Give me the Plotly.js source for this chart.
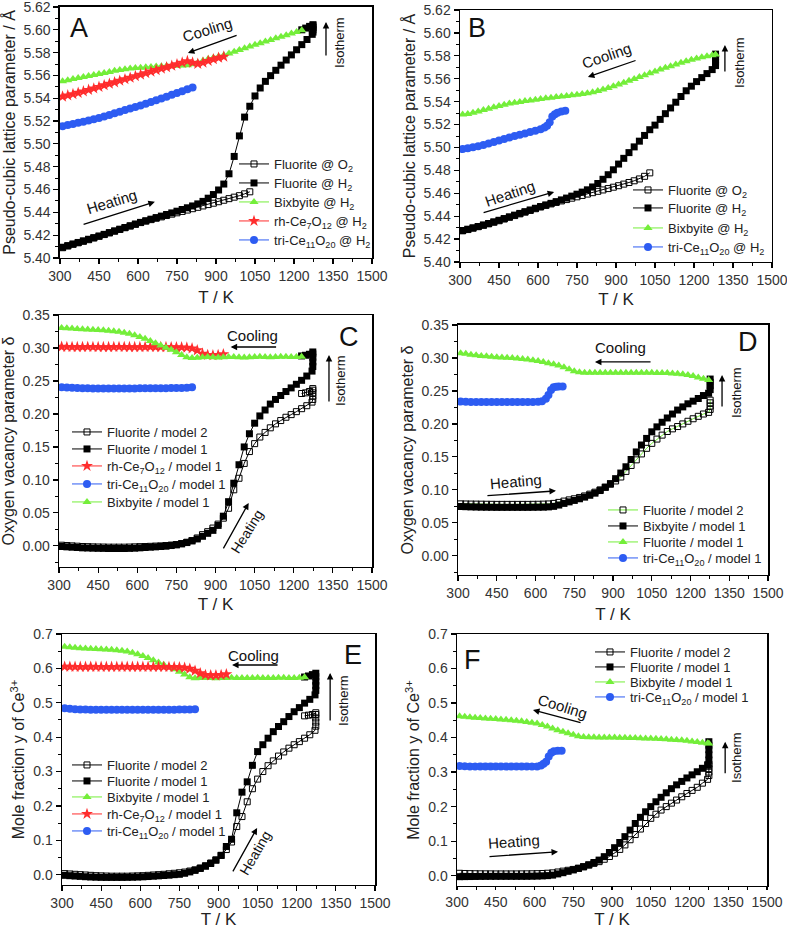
<!DOCTYPE html>
<html><head><meta charset="utf-8">
<script src="https://cdn.plot.ly/plotly-3.0.1.min.js"></script>
<style>html,body{margin:0;padding:0;background:#fff}#chart{width:787px;height:929px}</style>
</head><body><div id="chart"></div>
<script>
// ---------- shared temperature grid (K) ----------
const T20 = [310,330,350,370,390,410,430,450,470,490,510,530,550,570,590,610,630,650,670,690,710,730,750,770,790,810,830,850,870,890,910,930,950,970,990,1010,1030,1050,1070,1090,1110,1130,1150,1170,1190,1210,1230,1250,1270];

// ---------- Panel A : lattice parameter, sample 1 ----------
const A_O2 = [5.4090,5.4105,5.4120,5.4133,5.4146,5.4160,5.4175,5.4190,5.4205,5.4220,5.4235,5.4250,5.4265,5.4280,5.4295,5.4310,5.4323,5.4336,5.4348,5.4360,5.4372,5.4384,5.4396,5.4408,5.4420,5.4432,5.4444,5.4456,5.4468,5.4480,5.4493,5.4506,5.4520,5.4533,5.4546,5.4562,5.4580];
const A_H2 = [5.4094,5.4108,5.4122,5.4136,5.4150,5.4164,5.4178,5.4192,5.4207,5.4222,5.4237,5.4252,5.4267,5.4282,5.4297,5.4312,5.4326,5.4340,5.4354,5.4367,5.4381,5.4395,5.4410,5.4425,5.4440,5.4456,5.4474,5.4496,5.4524,5.4556,5.4596,5.4648,5.4738,5.4890,5.5070,5.5235,5.5330,5.5420,5.5490,5.5548,5.5598,5.5645,5.5690,5.5735,5.5780,5.5825,5.5870,5.5915,5.5960];
const A_H2_tailT = [1273,1273,1273,1273,1273,1260,1245,1230];
const A_H2_tail  = [5.5980,5.6000,5.6020,5.6035,5.6045,5.6030,5.6015,5.6000];
const A_Bix = [5.5548,5.5558,5.5568,5.5577,5.5586,5.5595,5.5604,5.5613,5.5622,5.5631,5.5640,5.5648,5.5655,5.5661,5.5665,5.5668,5.5672,5.5675,5.5678,5.5680,5.5682,5.5683,5.5684,5.5686,5.5690,5.5698,5.5712,5.5728,5.5743,5.5755,5.5766,5.5778,5.5793,5.5808,5.5823,5.5838,5.5853,5.5868,5.5883,5.5897,5.5911,5.5925,5.5939,5.5953,5.5967,5.5981,5.5995];
const A_Rh = [5.5415,5.5425,5.5436,5.5448,5.5460,5.5473,5.5486,5.5500,5.5514,5.5527,5.5540,5.5554,5.5567,5.5580,5.5594,5.5607,5.5620,5.5634,5.5647,5.5660,5.5672,5.5685,5.5698,5.5712,5.5725,5.5712,5.5702,5.5712,5.5728,5.5742,5.5755,5.5765];
const A_Tri = [5.5155,5.5165,5.5175,5.5185,5.5195,5.5205,5.5216,5.5227,5.5240,5.5254,5.5268,5.5282,5.5296,5.5310,5.5323,5.5337,5.5352,5.5367,5.5382,5.5398,5.5414,5.5430,5.5446,5.5462,5.5479,5.5495];

// ---------- Panel B : lattice parameter, sample 2 ----------
const B_O2 = [5.4272,5.4283,5.4295,5.4308,5.4320,5.4333,5.4347,5.4360,5.4375,5.4390,5.4405,5.4420,5.4435,5.4450,5.4465,5.4480,5.4494,5.4507,5.4520,5.4533,5.4545,5.4557,5.4569,5.4581,5.4593,5.4605,5.4617,5.4629,5.4641,5.4653,5.4666,5.4680,5.4694,5.4709,5.4725,5.4748,5.4778];
const B_H2 = [5.4275,5.4286,5.4298,5.4310,5.4323,5.4336,5.4350,5.4364,5.4379,5.4394,5.4409,5.4424,5.4439,5.4454,5.4469,5.4484,5.4498,5.4512,5.4527,5.4542,5.4558,5.4575,5.4592,5.4610,5.4630,5.4655,5.4685,5.4722,5.4762,5.4805,5.4855,5.4905,5.4955,5.5005,5.5055,5.5105,5.5155,5.5195,5.5245,5.5295,5.5345,5.5395,5.5445,5.5495,5.5535,5.5575,5.5610,5.5645,5.5680];
const B_H2_tailT = [1283,1283,1283,1283,1283];
const B_H2_tail  = [5.5715,5.5745,5.5770,5.5795,5.5815];
const B_Bix = [5.5287,5.5292,5.5302,5.5314,5.5327,5.5339,5.5351,5.5362,5.5373,5.5383,5.5391,5.5398,5.5405,5.5411,5.5417,5.5423,5.5429,5.5434,5.5440,5.5445,5.5450,5.5455,5.5460,5.5466,5.5474,5.5483,5.5494,5.5506,5.5520,5.5535,5.5550,5.5566,5.5582,5.5598,5.5615,5.5631,5.5648,5.5664,5.5680,5.5695,5.5710,5.5725,5.5740,5.5753,5.5766,5.5777,5.5788,5.5797,5.5805];
const B_Bix_tailT = [1283];
const B_Bix_tail  = [5.5812];
const B_Tri_T = [310,330,350,370,390,410,430,450,470,490,510,530,550,570,590,610,625,635,645,655,665,675,690,705];
const B_Tri   = [5.4986,5.4993,5.5002,5.5011,5.5022,5.5034,5.5047,5.5060,5.5073,5.5087,5.5099,5.5110,5.5122,5.5134,5.5146,5.5160,5.5175,5.5190,5.5220,5.5270,5.5290,5.5303,5.5313,5.5320];

// ---------- Panel C : oxygen vacancy parameter, sample 1 ----------
const C_M2 = [0.0010,0.0005,0.0000,-0.0005,-0.0010,-0.0012,-0.0015,-0.0017,-0.0018,-0.0020,-0.0020,-0.0020,-0.0020,-0.0018,-0.0015,-0.0012,-0.0010,-0.0007,-0.0003,0.0000,0.0005,0.0012,0.0020,0.0035,0.0055,0.0080,0.0120,0.0170,0.0215,0.0270,0.0330,0.0420,0.0570,0.0850,0.1025,0.1250,0.1430,0.1550,0.1650,0.1720,0.1790,0.1850,0.1900,0.1950,0.1990,0.2035,0.2080,0.2125,0.2180];
const C_M2_tailT = [1273,1273,1273,1273,1273,1260,1245,1230];
const C_M2_tail  = [0.2220,0.2270,0.2320,0.2360,0.2385,0.2340,0.2320,0.2310];
const C_M1 = [-0.0010,-0.0015,-0.0020,-0.0025,-0.0030,-0.0032,-0.0035,-0.0037,-0.0038,-0.0040,-0.0040,-0.0040,-0.0040,-0.0038,-0.0035,-0.0030,-0.0025,-0.0020,-0.0015,-0.0010,-0.0005,0.0005,0.0015,0.0030,0.0050,0.0075,0.0105,0.0145,0.0190,0.0235,0.0310,0.0450,0.0670,0.0950,0.1230,0.1500,0.1700,0.1860,0.1970,0.2060,0.2150,0.2220,0.2280,0.2340,0.2395,0.2450,0.2510,0.2575,0.2650];
const C_M1_tailT = [1273,1273,1273,1273,1273,1260,1245,1230];
const C_M1_tail  = [0.2720,0.2790,0.2860,0.2910,0.2940,0.2905,0.2890,0.2880];
const C_Rh = [0.3018,0.3016,0.3015,0.3014,0.3015,0.3016,0.3015,0.3014,0.3013,0.3014,0.3015,0.3016,0.3015,0.3014,0.3013,0.3014,0.3015,0.3016,0.3015,0.3014,0.3013,0.3012,0.3012,0.3010,0.3005,0.2995,0.2965,0.2915,0.2895,0.2890,0.2895,0.2905];
const C_Tri = [0.2405,0.2400,0.2396,0.2393,0.2390,0.2388,0.2387,0.2386,0.2385,0.2385,0.2385,0.2385,0.2386,0.2386,0.2387,0.2388,0.2388,0.2389,0.2390,0.2390,0.2391,0.2392,0.2393,0.2394,0.2397,0.2405];
const C_Bix = [0.3305,0.3300,0.3295,0.3290,0.3286,0.3282,0.3278,0.3273,0.3268,0.3262,0.3254,0.3245,0.3232,0.3215,0.3193,0.3168,0.3140,0.3108,0.3073,0.3038,0.3005,0.2972,0.2935,0.2895,0.2860,0.2848,0.2852,0.2858,0.2862,0.2858,0.2855,0.2858,0.2862,0.2865,0.2860,0.2857,0.2860,0.2865,0.2868,0.2864,0.2860,0.2862,0.2866,0.2868,0.2865,0.2863,0.2866];

// ---------- Panel D : oxygen vacancy parameter, sample 2 ----------
const D_M2 = [0.0788,0.0786,0.0785,0.0784,0.0783,0.0782,0.0781,0.0780,0.0780,0.0780,0.0780,0.0780,0.0780,0.0780,0.0781,0.0782,0.0784,0.0787,0.0795,0.0810,0.0830,0.0848,0.0865,0.0885,0.0908,0.0935,0.0965,0.1000,0.1040,0.1085,0.1135,0.1195,0.1280,0.1370,0.1455,0.1545,0.1630,0.1705,0.1770,0.1830,0.1885,0.1925,0.1960,0.2000,0.2040,0.2078,0.2115,0.2150,0.2175];
const D_M2_tailT = [1276,1276,1276,1276];
const D_M2_tail  = [0.2220,0.2270,0.2320,0.2360];
const D_M1 = [0.0748,0.0745,0.0742,0.0740,0.0738,0.0737,0.0736,0.0735,0.0735,0.0735,0.0735,0.0735,0.0735,0.0735,0.0736,0.0737,0.0738,0.0742,0.0750,0.0770,0.0795,0.0818,0.0840,0.0865,0.0890,0.0918,0.0950,0.0990,0.1040,0.1095,0.1170,0.1255,0.1350,0.1460,0.1575,0.1680,0.1780,0.1880,0.1955,0.2025,0.2090,0.2150,0.2210,0.2258,0.2305,0.2345,0.2385,0.2430,0.2465];
const D_M1_tailT = [1276,1276,1276,1276];
const D_M1_tail  = [0.2520,0.2580,0.2630,0.2680];
const D_Grn = [0.3070,0.3062,0.3050,0.3040,0.3031,0.3024,0.3018,0.3012,0.3008,0.3003,0.2998,0.2992,0.2985,0.2976,0.2965,0.2952,0.2937,0.2920,0.2904,0.2884,0.2860,0.2830,0.2800,0.2783,0.2777,0.2775,0.2776,0.2775,0.2774,0.2775,0.2776,0.2775,0.2774,0.2775,0.2776,0.2775,0.2774,0.2774,0.2773,0.2772,0.2770,0.2766,0.2760,0.2752,0.2740,0.2725,0.2705,0.2685,0.2665];
const D_Tri_T = [310,330,350,370,390,410,430,450,470,490,510,530,550,570,590,610,625,640,650,660,670,680,690,705];
const D_Tri   = [0.2338,0.2335,0.2334,0.2333,0.2333,0.2333,0.2333,0.2333,0.2333,0.2333,0.2333,0.2333,0.2333,0.2333,0.2334,0.2336,0.2345,0.2380,0.2440,0.2515,0.2555,0.2565,0.2567,0.2568];

// ---------- Panel E : Ce3+ fraction, sample 1 ----------
const E_M2 = [0.0030,0.0020,0.0010,0.0000,-0.0010,-0.0020,-0.0030,-0.0035,-0.0040,-0.0045,-0.0045,-0.0045,-0.0045,-0.0040,-0.0035,-0.0030,-0.0020,-0.0010,0.0000,0.0010,0.0025,0.0040,0.0055,0.0075,0.0105,0.0140,0.0195,0.0260,0.0340,0.0430,0.0560,0.0730,0.0950,0.1400,0.1690,0.2120,0.2500,0.2780,0.3000,0.3170,0.3310,0.3450,0.3570,0.3680,0.3780,0.3870,0.3970,0.4070,0.4200];
const E_M2_tailT = [1273,1273,1273,1273,1273,1260,1245,1230];
const E_M2_tail  = [0.4320,0.4440,0.4560,0.4660,0.4710,0.4660,0.4640,0.4620];
const E_M1 = [-0.0020,-0.0030,-0.0040,-0.0050,-0.0060,-0.0068,-0.0074,-0.0078,-0.0080,-0.0080,-0.0080,-0.0080,-0.0078,-0.0075,-0.0070,-0.0063,-0.0055,-0.0045,-0.0035,-0.0025,-0.0015,0.0000,0.0010,0.0040,0.0080,0.0125,0.0180,0.0245,0.0325,0.0420,0.0560,0.0820,0.1030,0.1800,0.2400,0.2700,0.3180,0.3580,0.3780,0.3970,0.4160,0.4310,0.4450,0.4600,0.4740,0.4860,0.4990,0.5100,0.5230];
const E_M1_tailT = [1273,1273,1273,1273,1273,1260,1245,1230];
const E_M1_tail  = [0.5360,0.5500,0.5630,0.5760,0.5860,0.5820,0.5780,0.5750];
const E_Bix = [0.6630,0.6615,0.6600,0.6588,0.6578,0.6570,0.6562,0.6555,0.6548,0.6540,0.6530,0.6515,0.6490,0.6455,0.6415,0.6360,0.6300,0.6240,0.6175,0.6105,0.6040,0.5975,0.5905,0.5820,0.5745,0.5715,0.5718,0.5722,0.5720,0.5717,0.5720,0.5723,0.5725,0.5722,0.5719,0.5721,0.5724,0.5726,0.5723,0.5720,0.5722,0.5725,0.5727,0.5724,0.5722,0.5726,0.5740];
const E_Rh = [0.6050,0.6048,0.6046,0.6045,0.6046,0.6047,0.6046,0.6045,0.6044,0.6045,0.6046,0.6047,0.6046,0.6045,0.6044,0.6045,0.6046,0.6045,0.6044,0.6043,0.6042,0.6040,0.6035,0.6020,0.5990,0.5930,0.5860,0.5810,0.5800,0.5800,0.5810,0.5830];
const E_Tri = [0.4840,0.4825,0.4815,0.4808,0.4803,0.4800,0.4798,0.4796,0.4795,0.4795,0.4795,0.4795,0.4795,0.4796,0.4796,0.4797,0.4797,0.4798,0.4798,0.4799,0.4800,0.4801,0.4802,0.4804,0.4808,0.4815];

// ---------- Panel F : Ce3+ fraction, sample 2 ----------
const F_M2 = [0.0068,0.0062,0.0058,0.0055,0.0053,0.0052,0.0051,0.0050,0.0050,0.0050,0.0050,0.0050,0.0051,0.0052,0.0054,0.0057,0.0062,0.0070,0.0080,0.0105,0.0130,0.0155,0.0180,0.0215,0.0255,0.0305,0.0355,0.0405,0.0475,0.0555,0.0650,0.0760,0.0890,0.1040,0.1190,0.1350,0.1510,0.1660,0.1780,0.1900,0.2000,0.2100,0.2190,0.2285,0.2380,0.2470,0.2560,0.2680,0.2790];
const F_M2_tailT = [1275,1275,1275,1275,1275];
const F_M2_tail  = [0.2900,0.3000,0.3100,0.3180,0.3230];
const F_M1 = [-0.0030,-0.0028,-0.0026,-0.0024,-0.0022,-0.0021,-0.0020,-0.0020,-0.0020,-0.0020,-0.0020,-0.0020,-0.0020,-0.0019,-0.0017,-0.0014,-0.0008,0.0000,0.0015,0.0050,0.0085,0.0125,0.0165,0.0210,0.0260,0.0315,0.0380,0.0450,0.0550,0.0670,0.0810,0.0960,0.1130,0.1320,0.1510,0.1690,0.1850,0.2000,0.2140,0.2270,0.2400,0.2520,0.2630,0.2730,0.2830,0.2920,0.3010,0.3110,0.3210];
const F_M1_tailT = [1275,1275,1275,1275,1275];
const F_M1_tail  = [0.3350,0.3500,0.3650,0.3780,0.3880];
const F_Bix = [0.4615,0.4600,0.4588,0.4575,0.4565,0.4555,0.4545,0.4535,0.4525,0.4515,0.4505,0.4490,0.4475,0.4455,0.4430,0.4405,0.4365,0.4320,0.4265,0.4215,0.4170,0.4125,0.4080,0.4035,0.4015,0.4010,0.4008,0.4005,0.4003,0.4000,0.4000,0.3996,0.3993,0.3990,0.3985,0.3980,0.3975,0.3970,0.3965,0.3958,0.3950,0.3940,0.3930,0.3920,0.3905,0.3890,0.3870,0.3850,0.3835];
const F_Bix_tailT = [1275];
const F_Bix_tail  = [0.3830];
const F_Tri_T = [310,330,350,370,390,410,430,450,470,490,510,530,550,570,590,610,625,635,645,655,665,675,690,705];
const F_Tri   = [0.3176,0.3170,0.3165,0.3162,0.3160,0.3160,0.3160,0.3160,0.3160,0.3160,0.3160,0.3160,0.3160,0.3161,0.3162,0.3165,0.3190,0.3240,0.3300,0.3450,0.3560,0.3605,0.3615,0.3620];

// ---------- styling ----------
const GREEN = '#74ee3a', RED = '#ff2d2d', BLUE = '#2d5cf2', BLACK = '#000000';
const NARROW = '"Liberation Sans Narrow", "Liberation Sans", Arial, sans-serif';
const SANS = '"Liberation Sans", Arial, sans-serif';
const W = 787, H = 929;
const tx = n => T20.slice(0, n);
const sfx = p => (p === 1 ? '' : String(p));

// legend entry placement per panel: [symbol-line start px, entry centre px list]
const LEG = {
  1:[239,[164,183,202,221,240]],
  2:[633,[190,208,228,247]],
  3:[72,[432,449,466,484,502]],
  4:[608,[510,526,542,558]],
  5:[72,[765,781,797,814,831]],
  6:[595,[652,667,682,697]]
};
const legCount = {1:0,2:0,3:0,4:0,5:0,6:0};
const legends = {};
let legN = 0;

const traces = [];
function add(p, name, x, y, kind, lineColor) {
  const st = {
    open:  {symbol:'square-open', color:BLACK, size:6},
    fill:  {symbol:'square', color:BLACK, size:7},
    tri:   {symbol:'triangle-up', color:GREEN, size:8},
    star:  {symbol:'star', color:RED, size:9},
    dot:   {symbol:'circle', color:BLUE, size:8}
  }[kind];
  legN += 1;
  const lid = 'legend' + (legN === 1 ? '' : legN);
  const k = legCount[p]++;
  legends[lid] = {
    x:(LEG[p][0]-5)/W, y:1 - LEG[p][1][k]/H, xanchor:'left', yanchor:'middle',
    bgcolor:'rgba(0,0,0,0)', borderwidth:0, itemwidth:30,
    font:{family:NARROW, size:13, color:'#222'}
  };
  traces.push({
    type:'scatter', mode:'lines+markers', name, x, y,
    xaxis:'x'+sfx(p), yaxis:'y'+sfx(p), legend:lid,
    line:{color: lineColor || st.color, width:1},
    marker:{symbol:st.symbol, color:st.color, size:st.size, line:{width: kind==='open'?1:0, color:st.color}}
  });
}
// A
add(1, 'Fluorite @ O<sub>2</sub>', tx(A_O2.length), A_O2, 'open');
add(1, 'Fluorite @ H<sub>2</sub>', tx(A_H2.length).concat(A_H2_tailT), A_H2.concat(A_H2_tail), 'fill');
add(1, 'Bixbyite @ H<sub>2</sub>', tx(A_Bix.length), A_Bix, 'tri');
add(1, 'rh-Ce<sub>7</sub>O<sub>12</sub> @ H<sub>2</sub>', tx(A_Rh.length), A_Rh, 'star');
add(1, 'tri-Ce<sub>11</sub>O<sub>20</sub> @ H<sub>2</sub>', tx(A_Tri.length), A_Tri, 'dot');
// B
add(2, 'Fluorite @ O<sub>2</sub>', tx(B_O2.length), B_O2, 'open');
add(2, 'Fluorite @ H<sub>2</sub>', tx(B_H2.length).concat(B_H2_tailT), B_H2.concat(B_H2_tail), 'fill');
add(2, 'Bixbyite @ H<sub>2</sub>', tx(B_Bix.length).concat(B_Bix_tailT), B_Bix.concat(B_Bix_tail), 'tri');
add(2, 'tri-Ce<sub>11</sub>O<sub>20</sub> @ H<sub>2</sub>', B_Tri_T, B_Tri, 'dot');
// C
add(3, 'Fluorite / model 2', tx(C_M2.length).concat(C_M2_tailT), C_M2.concat(C_M2_tail), 'open');
add(3, 'Fluorite / model 1', tx(C_M1.length).concat(C_M1_tailT), C_M1.concat(C_M1_tail), 'fill');
add(3, 'rh-Ce<sub>7</sub>O<sub>12</sub> / model 1', tx(C_Rh.length), C_Rh, 'star');
add(3, 'tri-Ce<sub>11</sub>O<sub>20</sub> / model 1', tx(C_Tri.length), C_Tri, 'dot');
add(3, 'Bixbyite / model 1', tx(C_Bix.length), C_Bix, 'tri');
// D
add(4, 'Fluorite / model 2', tx(D_M2.length).concat(D_M2_tailT), D_M2.concat(D_M2_tail), 'open', GREEN);
add(4, 'Bixbyite / model 1', tx(D_M1.length).concat(D_M1_tailT), D_M1.concat(D_M1_tail), 'fill');
add(4, 'Fluorite / model 1', tx(D_Grn.length), D_Grn, 'tri');
add(4, 'tri-Ce<sub>11</sub>O<sub>20</sub> / model 1', D_Tri_T, D_Tri, 'dot');
// E
add(5, 'Fluorite / model 2', tx(E_M2.length).concat(E_M2_tailT), E_M2.concat(E_M2_tail), 'open');
add(5, 'Fluorite / model 1', tx(E_M1.length).concat(E_M1_tailT), E_M1.concat(E_M1_tail), 'fill');
add(5, 'Bixbyite / model 1', tx(E_Bix.length), E_Bix, 'tri');
add(5, 'rh-Ce<sub>7</sub>O<sub>12</sub> / model 1', tx(E_Rh.length), E_Rh, 'star');
add(5, 'tri-Ce<sub>11</sub>O<sub>20</sub> / model 1', tx(E_Tri.length), E_Tri, 'dot');
// F
add(6, 'Fluorite / model 2', tx(F_M2.length).concat(F_M2_tailT), F_M2.concat(F_M2_tail), 'open');
add(6, 'Fluorite / model 1', tx(F_M1.length).concat(F_M1_tailT), F_M1.concat(F_M1_tail), 'fill');
add(6, 'Bixbyite / model 1', tx(F_Bix.length).concat(F_Bix_tailT), F_Bix.concat(F_Bix_tail), 'tri');
add(6, 'tri-Ce<sub>11</sub>O<sub>20</sub> / model 1', F_Tri_T, F_Tri, 'dot');

// ---------- axes ----------
const panels = [
  {xd:[0.0762,0.4727], yd:[0.7223,0.9925], yr:[5.39999,5.62001], dt:0.02, mdt:0.01, fmt:'.2f', yt:'Pseudo-cubic lattice parameter / Å', tso:8},
  {xd:[0.5845,0.9809], yd:[0.7180,0.9892], yr:[5.39999,5.62001], dt:0.02, mdt:0.01, fmt:'.2f', yt:'Pseudo-cubic lattice parameter / Å', tso:6},
  {xd:[0.0750,0.4727], yd:[0.3897,0.6609], yr:[-0.032,0.35001], dt:0.05, mdt:0.025, fmt:'.2f', yt:'Oxygen vacancy parameter δ', tso:6},
  {xd:[0.5820,0.9759], yd:[0.3811,0.6502], yr:[-0.029,0.35001], dt:0.05, mdt:0.025, fmt:'.2f', yt:'Oxygen vacancy parameter δ', tso:8},
  {xd:[0.0788,0.4765], yd:[0.0474,0.3175], yr:[-0.03,0.70001], dt:0.1, mdt:0.05, fmt:'.1f', yt:'Mole fraction y of Ce<sup>3+</sup>', tso:8},
  {xd:[0.5807,0.9746], yd:[0.0463,0.3175], yr:[-0.03,0.70001], dt:0.1, mdt:0.05, fmt:'.1f', yt:'Mole fraction y of Ce<sup>3+</sup>', tso:0}
];

const layout = Object.assign({
  width:W, height:H, margin:{l:0,r:0,t:0,b:0},
  paper_bgcolor:'#ffffff', plot_bgcolor:'#ffffff', showlegend:true,
  font:{family:SANS, color:'#222'}, annotations:[]
}, legends);
const baseAx = {
  showline:true, linecolor:'#000', linewidth:1.5, mirror:true,
  ticks:'outside', tickwidth:1.2, tickcolor:'#000', ticklabeloverflow:'allow',
  showgrid:false, zeroline:false, automargin:false,
  tickfont:{family:NARROW, size:14, color:'#333'}
};
panels.forEach((p, i) => {
  const s = sfx(i+1);
  layout['xaxis'+s] = Object.assign({}, baseAx, {
    domain:p.xd, anchor:'y'+s, range:[299.99,1500.01], tick0:300, dtick:150, ticklen: i===5 ? 3 : 5,
    minor:{ticks:'outside', ticklen:3, dtick:75, tick0:300, tickwidth:1, tickcolor:'#000', showgrid:false},
    title:{text:'T / K', font:{family:SANS, size:17, color:'#222'}, standoff:p.tso}
  });
  layout['yaxis'+s] = Object.assign({}, baseAx, {
    domain:p.yd, anchor:'x'+s, range:p.yr, tick0:0, dtick:p.dt, tickformat:p.fmt, ticklen:5,
    minor:{ticks:'outside', ticklen:3, dtick:p.mdt, tick0:0, tickwidth:1, tickcolor:'#000', showgrid:false},
    title:{text:p.yt, font:{family:SANS, size:16, color:'#222'}, standoff:4}
  });
});

// ---------- annotations ----------
function label(p, x, y, text, size, angle, family) {
  const s = sfx(p);
  layout.annotations.push({xref:'x'+s, yref:'y'+s, x, y, text, showarrow:false,
    textangle:angle||0, font:{family:family||SANS, size:size, color:'#111'}});
}
function arrow(p, x0, y0, x1, y1) {
  const s = sfx(p);
  layout.annotations.push({xref:'x'+s, yref:'y'+s, axref:'x'+s, ayref:'y'+s,
    x:x1, y:y1, ax:x0, ay:y0, text:'', showarrow:true,
    arrowhead:2, arrowsize:1, arrowwidth:1.3, arrowcolor:'#000'});
}
// A
label(1, 373, 5.6016, 'A', 27);
label(1, 869, 5.5999, 'Cooling', 15, -17, NARROW); arrow(1, 985, 5.5955, 792, 5.5797);
label(1, 500, 5.4492, 'Heating', 15, -17, NARROW); arrow(1, 385, 5.429, 665, 5.4492);
label(1, 1377, 5.5885, 'Isotherm', 13, -90); arrow(1, 1323, 5.5762, 1323, 5.6069);
// B
label(2, 365, 5.6043, 'B', 27);
label(2, 865, 5.5807, 'Cooling', 15, -19, NARROW); arrow(2, 981, 5.5764, 792, 5.5615);
label(2, 492, 5.4602, 'Heating', 15, -19, NARROW); arrow(2, 385, 5.4428, 662, 5.4611);
label(2, 1373, 5.5746, 'Isotherm', 13, -90); arrow(2, 1319, 5.565, 1319, 5.5894);
// C
label(3, 1411, 0.3167, 'C', 27);
label(3, 1042, 0.3197, 'Cooling', 15, 0, NARROW); arrow(3, 1138, 0.3015, 958, 0.3015);
label(3, 1019, 0.0212, 'Heating', 14, -58); arrow(3, 927, -0.006, 1027, 0.065);
label(3, 1381, 0.2515, 'Isotherm', 13, -90); arrow(3, 1335, 0.2167, 1335, 0.2894);
// D
label(4, 1423, 0.3242, 'D', 27);
label(4, 927, 0.3152, 'Cooling', 15, 0, NARROW); arrow(4, 1051, 0.294, 830, 0.294);
label(4, 525, 0.1121, 'Heating', 15, -5, NARROW); arrow(4, 408, 0.091, 679, 0.0985);
label(4, 1380, 0.247, 'Isotherm', 13, -90); arrow(4, 1322, 0.2243, 1322, 0.2742);
// E
label(5, 1416, 0.639, 'E', 27);
label(5, 1036, 0.639, 'Cooling', 15, 0, NARROW); arrow(5, 1132, 0.61, 952, 0.61);
label(5, 1040, 0.0634, 'Heating', 14, -60); arrow(5, 952, 0.005, 1048, 0.136);
label(5, 1377, 0.508, 'Isotherm', 13, -90); arrow(5, 1328, 0.444, 1328, 0.587);
// F
label(6, 358, 0.625, 'F', 27);
label(6, 710, 0.489, 'Cooling', 15, 17, NARROW); arrow(6, 784, 0.4425, 594, 0.480);
label(6, 521, 0.0983, 'Heating', 15, -4, NARROW); arrow(6, 420, 0.055, 691, 0.069);
label(6, 1384, 0.341, 'Isotherm', 13, -90); arrow(6, 1338, 0.292, 1338, 0.3876);

Plotly.newPlot('chart', traces, layout, {staticPlot:true, displayModeBar:false});
</script>
</body></html>
